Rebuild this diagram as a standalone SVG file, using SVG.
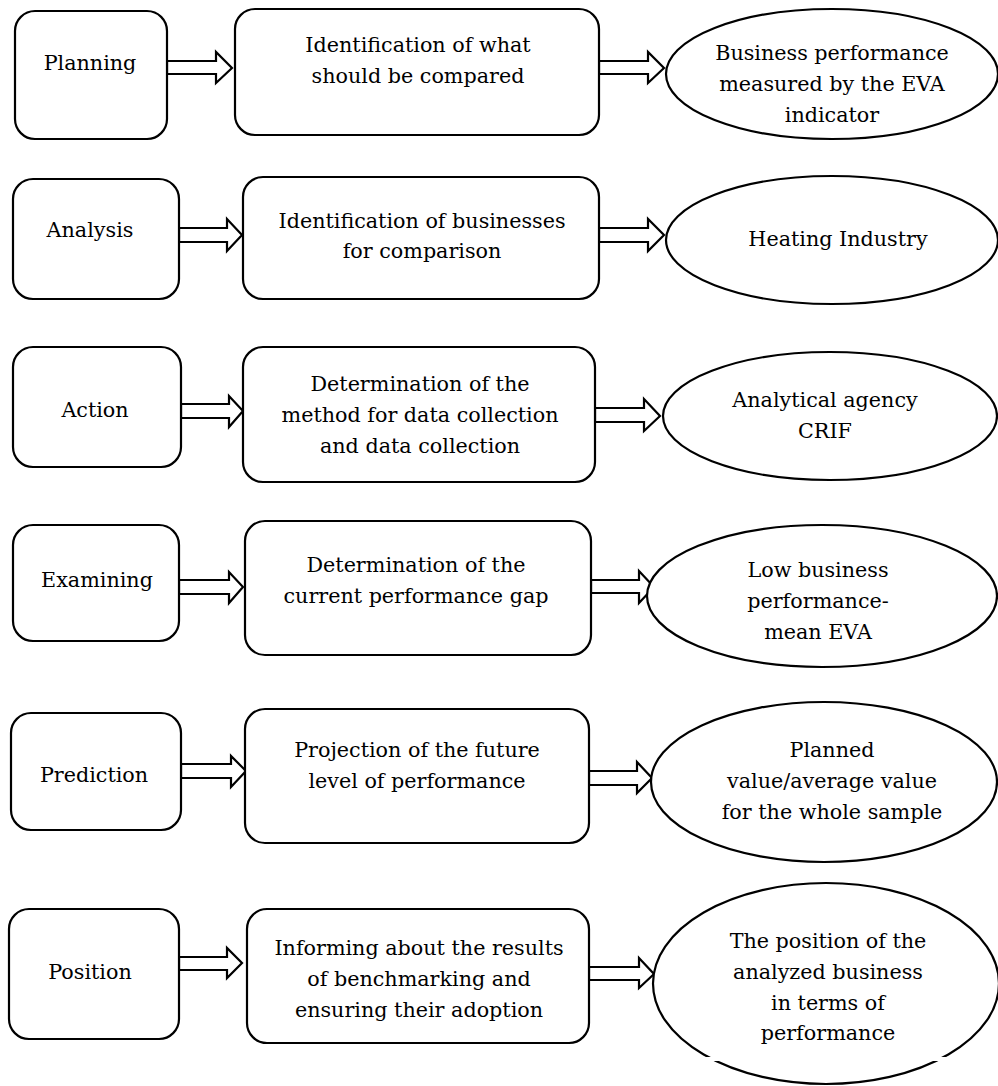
<svg xmlns="http://www.w3.org/2000/svg" width="998" height="1086" viewBox="0 0 998 1086">
<style>
.box{fill:#fff;stroke:#000;stroke-width:2.2}
.arr{fill:#fff;stroke:#000;stroke-width:2.2;stroke-linejoin:miter}
text{font-family:"DejaVu Serif","Liberation Serif",serif;font-size:20.7px;fill:#000;text-anchor:middle}
</style>
<rect width="998" height="1086" fill="#fff"/>
<g id="connectors">
<path class="arr" d="M167,61 L216,61 L216,52 L232,68 L216,83 L216,74 L167,74 Z"/>
<path class="arr" d="M599,61 L648,61 L648,52 L664,68 L648,83 L648,74 L599,74 Z"/>
<path class="arr" d="M179,228 L227,228 L227,219 L242,235 L227,251 L227,242 L179,242 Z"/>
<path class="arr" d="M599,228 L648,228 L648,219 L664,235 L648,251 L648,242 L599,242 Z"/>
<path class="arr" d="M181,404 L229,404 L229,396 L243,411 L229,427 L229,418 L181,418 Z"/>
<path class="arr" d="M595,408 L644,408 L644,399 L660,416 L644,431 L644,422 L595,422 Z"/>
<path class="arr" d="M179,580 L229,580 L229,572 L243,587 L229,603 L229,594 L179,594 Z"/>
<path class="arr" d="M591,580 L639,580 L639,571 L654,587 L639,603 L639,593 L591,593 Z"/>
<path class="arr" d="M181,764 L231,764 L231,756 L246,771 L231,787 L231,778 L181,778 Z"/>
<path class="arr" d="M589,771 L637,771 L637,762 L652,778 L637,793 L637,785 L589,785 Z"/>
<path class="arr" d="M179,957 L227,957 L227,948 L242,963 L227,978 L227,970 L179,970 Z"/>
<path class="arr" d="M589,967 L639,967 L639,958 L654,974 L639,988 L639,980 L589,980 Z"/>
</g>
<g id="planning"><rect class="box" x="15" y="11" width="152" height="128" rx="20"/><text x="90" y="70">Planning</text></g>
<g id="identify-what"><rect class="box" x="235" y="9" width="364" height="126" rx="20"/><text x="418" y="52">Identification of what</text><text x="418" y="83">should be compared</text></g>
<g id="eva-indicator"><ellipse class="box" cx="832" cy="74" rx="166" ry="65"/><text x="832" y="60">Business performance</text><text x="832" y="91">measured by the EVA</text><text x="832" y="122">indicator</text></g>

<g id="analysis"><rect class="box" x="13" y="179" width="166" height="120" rx="20"/><text x="90" y="237">Analysis</text></g>
<g id="identify-businesses"><rect class="box" x="243" y="177" width="356" height="122" rx="20"/><text x="422" y="228">Identification of businesses</text><text x="422" y="258">for comparison</text></g>
<g id="heating"><ellipse class="box" cx="832" cy="240" rx="166" ry="64"/><text x="838" y="246">Heating Industry</text></g>

<g id="action"><rect class="box" x="13" y="347" width="168" height="120" rx="20"/><text x="95" y="417">Action</text></g>
<g id="data-method"><rect class="box" x="243" y="347" width="352" height="135" rx="20"/><text x="420" y="391">Determination of the</text><text x="420" y="422">method for data collection</text><text x="420" y="453">and data collection</text></g>
<g id="crif"><ellipse class="box" cx="830" cy="416" rx="167" ry="64"/><text x="825" y="407">Analytical agency</text><text x="825" y="438">CRIF</text></g>

<g id="examining"><rect class="box" x="13" y="525" width="166" height="116" rx="20"/><text x="97" y="587">Examining</text></g>
<g id="performance-gap"><rect class="box" x="245" y="521" width="346" height="134" rx="20"/><text x="416" y="572">Determination of the</text><text x="416" y="603">current performance gap</text></g>
<g id="low-performance"><ellipse class="box" cx="822" cy="596" rx="175" ry="71"/><text x="818" y="577">Low business</text><text x="818" y="608">performance-</text><text x="818" y="639">mean EVA</text></g>

<g id="prediction"><rect class="box" x="11" y="713" width="170" height="117" rx="20"/><text x="94" y="782">Prediction</text></g>
<g id="projection"><rect class="box" x="245" y="709" width="344" height="134" rx="20"/><text x="417" y="757">Projection of the future</text><text x="417" y="788">level of performance</text></g>
<g id="planned-value"><ellipse class="box" cx="824" cy="782" rx="173" ry="80"/><text x="832" y="757">Planned</text><text x="832" y="788">value/average value</text><text x="832" y="819">for the whole sample</text></g>

<g id="position"><rect class="box" x="9" y="909" width="170" height="130" rx="20"/><text x="90" y="979">Position</text></g>
<g id="informing"><rect class="box" x="247" y="909" width="342" height="134" rx="20"/><text x="419" y="955">Informing about the results</text><text x="419" y="986">of benchmarking and</text><text x="419" y="1017">ensuring their adoption</text></g>
<g id="business-position"><ellipse class="box" cx="826" cy="983.5" rx="173" ry="100.5"/><rect x="690" y="1057" width="275" height="4" fill="#fff"/><text x="828" y="948">The position of the</text><text x="828" y="979">analyzed business</text><text x="828" y="1010">in terms of</text><text x="828" y="1040">performance</text></g>
</svg>
